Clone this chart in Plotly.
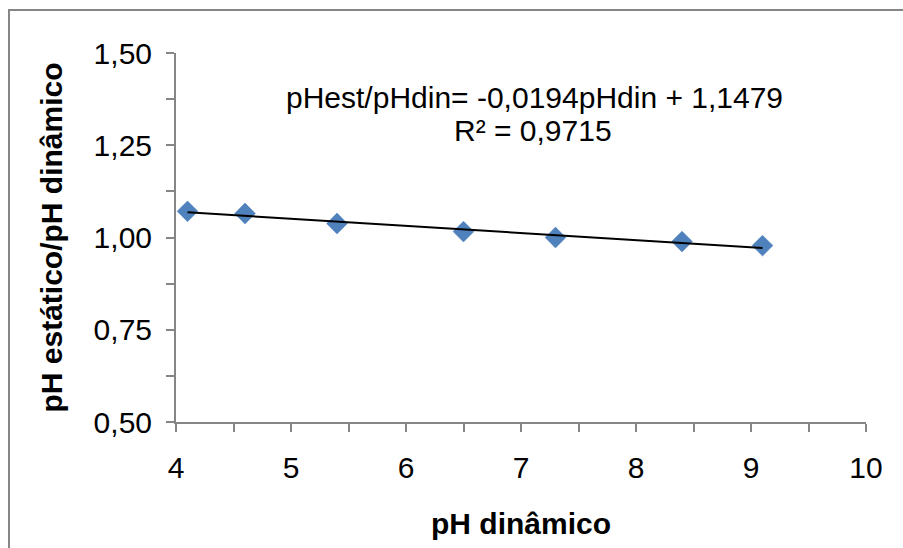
import plotly.graph_objects as go

ph_dinamico = [4.1, 4.6, 5.4, 6.5, 7.3, 8.4, 9.1]
ratio = [1.071, 1.065, 1.038, 1.016, 1.000, 0.989, 0.978]

slope = -0.0194
intercept = 1.1479
r2_text = "R² = 0,9715"
eq_text = "pHest/pHdin= -0,0194pHdin + 1,1479"

x_ticks = [4, 5, 6, 7, 8, 9, 10]
x_labels = ["4", "5", "6", "7", "8", "9", "10"]
y_ticks = [0.5, 0.75, 1.0, 1.25, 1.5]
y_labels = ["0,50", "0,75", "1,00", "1,25", "1,50"]

W, H = 903, 548
L, R, T, B = 176, 37, 53, 126
pw, ph = W - L - R, H - T - B

def px(xp):
    return (xp - L) / pw

def py(yp):
    return (H - B - yp) / ph

trend_x = [min(ph_dinamico), max(ph_dinamico)]
trend_y = [slope * v + intercept for v in trend_x]

font = "Liberation Sans, Arial, sans-serif"
axis_col = "#868686"

fig = go.Figure()
fig.add_trace(go.Scatter(
    x=ph_dinamico, y=ratio, mode="markers",
    marker=dict(symbol="diamond", size=16, color="#4F81BD",
                line=dict(color="#4A7EBB", width=0.5)),
    showlegend=False))
fig.add_trace(go.Scatter(
    x=trend_x, y=trend_y, mode="lines",
    line=dict(color="black", width=2), showlegend=False))

fig.update_layout(
    width=W, height=H,
    margin=dict(l=L, r=R, t=T, b=B),
    paper_bgcolor="white", plot_bgcolor="white",
    font=dict(family=font, size=30, color="black"),
    xaxis=dict(range=[4, 10], tickvals=x_ticks, ticktext=x_labels,
               showgrid=False, zeroline=False, showline=True,
               linecolor=axis_col, linewidth=2, ticks="outside",
               ticklen=8, tickcolor=axis_col, tickwidth=2,
               ticklabelstandoff=10,
               minor=dict(dtick=0.5, ticks="outside", ticklen=8,
                          tickcolor=axis_col, tickwidth=2, showgrid=False),
               tickfont=dict(size=30),
               title=dict(text="<b>pH dinâmico</b>", font=dict(size=30),
                          standoff=30)),
    yaxis=dict(range=[0.5, 1.5], tickvals=y_ticks, ticktext=y_labels,
               showgrid=False, zeroline=False, showline=True,
               linecolor=axis_col, linewidth=2, ticks="outside",
               ticklen=8, tickcolor=axis_col, tickwidth=2,
               ticklabelstandoff=8,
               minor=dict(dtick=0.125, ticks="outside", ticklen=8,
                          tickcolor=axis_col, tickwidth=2, showgrid=False),
               tickfont=dict(size=30),
               title=dict(text="<b>pH estático/pH dinâmico</b>",
                          font=dict(size=30), standoff=22)),
    shapes=[dict(type="rect", xref="paper", yref="paper",
                 x0=px(9), x1=px(910), y0=py(560), y1=py(10),
                 line=dict(color=axis_col, width=2))],
    annotations=[
        dict(text=eq_text, xref="paper", yref="paper", x=px(534), y=py(97),
             showarrow=False, xanchor="center", yanchor="middle",
             font=dict(size=30)),
        dict(text=r2_text, xref="paper", yref="paper", x=px(533), y=py(130),
             showarrow=False, xanchor="center", yanchor="middle",
             font=dict(size=30)),
    ],
)

fig.write_html("out.html")
